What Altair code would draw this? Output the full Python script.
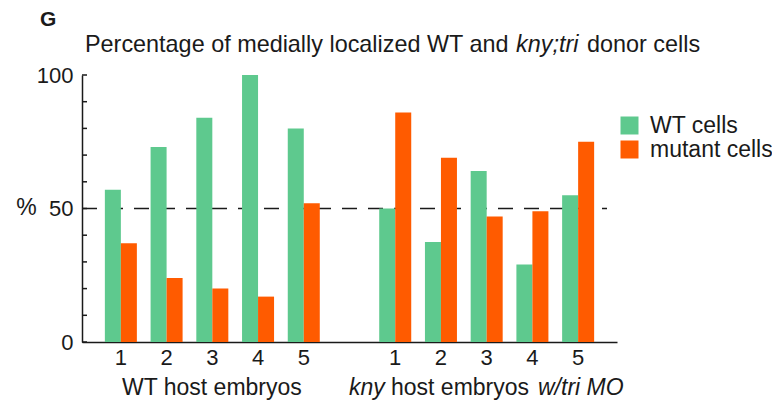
import altair as alt
import pandas as pd

# ---- data ----
embryos = ["1", "2", "3", "4", "5"]
wt_host_wt_cells = [57, 73, 84, 100, 80]
wt_host_mutant_cells = [37, 24, 20, 17, 52]
kny_host_wt_cells = [50, 37.5, 64, 29, 55]
kny_host_mutant_cells = [86, 69, 47, 49, 75]
series = ["WT cells", "mutant cells"]
colors = ["#5ec98e", "#ff5b00"]
y_ticks = list(range(0, 101, 10))
y_labels = [0, 50, 100]
reference_level = [50]

rows = []
for prefix, wt, mut in [("A", wt_host_wt_cells, wt_host_mutant_cells),
                        ("B", kny_host_wt_cells, kny_host_mutant_cells)]:
    for e, w, m in zip(embryos, wt, mut):
        rows.append({"slot": prefix + e, "series": series[0], "value": w})
        rows.append({"slot": prefix + e, "series": series[1], "value": m})
df = pd.DataFrame(rows)
slot_domain = ["A" + e for e in embryos] + ["gap"] + ["B" + e for e in embryos]

W, H = 535, 267
FONT = "Liberation Sans"
INK = "#1a1a1a"

y_axis = alt.Axis(values=y_labels, ticks=False, grid=False,
                  title="%", titleAngle=0, titleX=-56, titleY=132,
                  titleAlign="center", titleBaseline="middle",
                  titleFontSize=23, titleFontWeight="normal", titleColor=INK,
                  labelFontSize=22, labelPadding=9, labelColor=INK,
                  domainColor=INK, domainWidth=1.5)
y_scale = alt.Scale(domain=[0, 100], nice=False)

dashed = alt.Chart(pd.DataFrame({"value": reference_level})).mark_rule(
    strokeDash=[15, 11], color=INK, strokeWidth=1.6
).encode(
    y=alt.Y("value:Q", scale=y_scale, axis=y_axis),
    x=alt.value(0), x2=alt.value(525),
)

bars = alt.Chart(df).mark_bar().encode(
    x=alt.X("slot:N",
            scale=alt.Scale(domain=slot_domain, paddingInner=0.3, paddingOuter=0.5),
            axis=alt.Axis(title=None,
                          labelExpr="datum.value == 'gap' ? '' : substring(datum.value, 1)",
                          ticks=False, labelAngle=0, labelFontSize=22, labelPadding=5,
                          labelColor=INK, domainColor=INK, domainWidth=1.5)),
    xOffset=alt.XOffset("series:N", scale=alt.Scale(domain=series)),
    y=alt.Y("value:Q", scale=y_scale, axis=y_axis),
    color=alt.Color("series:N",
                    scale=alt.Scale(domain=series, range=colors),
                    legend=alt.Legend(title=None, orient="none", legendX=536, legendY=39,
                                      symbolType="square", symbolSize=324,
                                      symbolStrokeWidth=0, labelFontSize=23,
                                      labelColor=INK, rowPadding=0, labelOffset=9)),
)

ticks = alt.Chart(pd.DataFrame({"value": y_ticks})).mark_rule(
    color=INK, strokeWidth=1.5
).encode(
    y=alt.Y("value:Q", scale=y_scale, axis=y_axis),
    x=alt.value(0), x2=alt.value(5),
)


def label(text, x, y, size=23, style="normal", weight="normal"):
    return alt.Chart(pd.DataFrame({"t": [text]})).mark_text(
        align="left", baseline="alphabetic", fontSize=size, fontStyle=style,
        fontWeight=weight, font=FONT, color=INK
    ).encode(text="t:N", x=alt.value(x), y=alt.value(y))


texts = [
    label("G", -42, -49, size=21, weight="bold"),
    label("Percentage of medially localized WT and", 3, -23, size=23.4),
    label("kny;tri", 434, -23, size=23.4, style="italic"),
    label("donor cells", 505, -23, size=23.4),
    label("WT host embryos", 40, 320),
    label("kny", 267, 320, style="italic"),
    label("host embryos", 309, 320),
    label("w/tri MO", 456, 320, style="italic"),
]

chart = alt.layer(dashed, bars, ticks, *texts).properties(
    width=W, height=H,
    padding={"left": 74, "top": 67, "right": 155, "bottom": 58},
    autosize=alt.AutoSizeParams(type="none"),
).configure(font=FONT).configure_view(stroke=None)

chart.save("out.html", embed_options={"renderer": "svg", "actions": False})
